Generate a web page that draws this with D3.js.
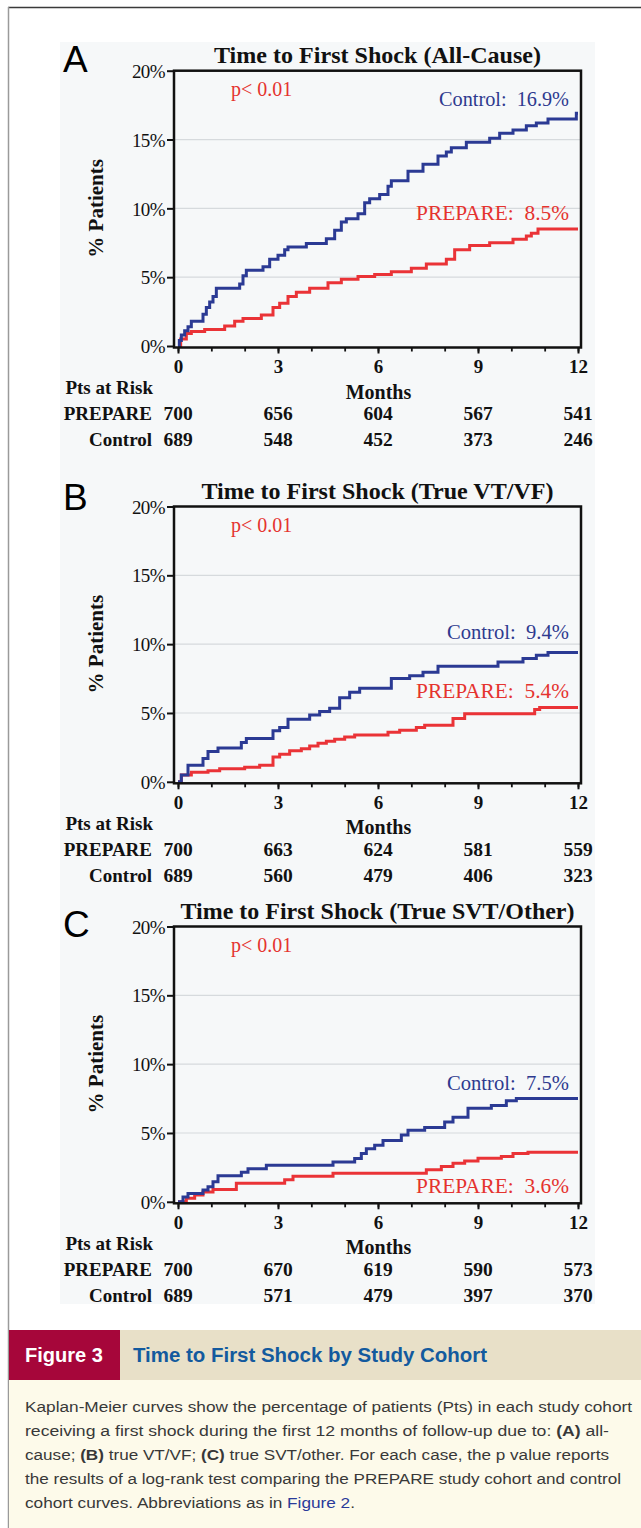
<!DOCTYPE html>
<html><head><meta charset="utf-8">
<script src="https://cdn.jsdelivr.net/npm/d3@7"></script>
<style>body{margin:0;background:#fff}svg{display:block}</style>
</head><body>
<script>
// ---------- DATA ----------
const panelLetters = ["A", "B", "C"];
const panelTitles = ["Time to First Shock (All-Cause)", "Time to First Shock (True VT/VF)", "Time to First Shock (True SVT/Other)"];
const pValueLabels = ["p< 0.01", "p< 0.01", "p< 0.01"];
const controlFinalLabels = ["Control:  16.9%", "Control:  9.4%", "Control:  7.5%"];
const prepareFinalLabels = ["PREPARE:  8.5%", "PREPARE:  5.4%", "PREPARE:  3.6%"];
const xTickMonths = [0, 3, 6, 9, 12];
const xMinorMonths = [0, 1, 2, 3, 4, 5, 6, 7, 8, 9, 10, 11, 12];
const yTickValues = [0, 5, 10, 15, 20];
const yAxisLabel = "% Patients";
const xAxisLabel = "Months";
const riskHeader = "Pts at Risk";
const riskRowLabels = ["PREPARE", "Control"];
const riskPrepare = [[700, 656, 604, 567, 541], [700, 663, 624, 581, 559], [700, 670, 619, 590, 573]];
const riskControl = [[689, 548, 452, 373, 246], [689, 560, 479, 406, 323], [689, 571, 479, 397, 370]];

// Kaplan-Meier step points [month, % patients]
const controlA = [[0,0],[0.04,0.4],[0.1,0.8],[0.2,1.1],[0.3,1.4],[0.4,1.8],[0.75,2.3],[0.85,2.8],[0.95,3.2],[1.05,3.6],[1.15,4.2],[1.85,4.5],[1.95,5.1],[2.05,5.5],[2.55,5.75],[2.75,6.3],[3.0,6.6],[3.2,7.0],[3.3,7.2],[3.85,7.45],[4.45,7.8],[4.7,8.4],[4.9,9.0],[5.05,9.25],[5.4,9.6],[5.6,10.4],[5.75,10.7],[6.05,11.0],[6.3,11.6],[6.4,12.0],[6.9,12.7],[7.35,13.2],[7.8,13.8],[8.05,14.1],[8.2,14.4],[8.65,14.8],[9.35,15.1],[9.65,15.45],[10.05,15.7],[10.45,16.0],[10.75,16.2],[11.1,16.5],[11.95,16.9],[12,16.9]];
const prepareA = [[0,0],[0.08,0.5],[0.25,0.9],[0.4,1.05],[0.8,1.2],[1.4,1.45],[1.7,1.8],[1.95,2.0],[2.5,2.25],[2.85,2.8],[3.05,3.1],[3.3,3.6],[3.55,3.9],[3.95,4.2],[4.5,4.6],[4.9,4.85],[5.4,5.05],[5.9,5.2],[6.4,5.4],[7.0,5.65],[7.45,5.95],[8.05,6.3],[8.3,7.0],[8.75,7.3],[9.35,7.5],[10.05,7.75],[10.45,8.0],[10.6,8.2],[10.8,8.5],[12,8.5]];
const controlB = [[0,0],[0.1,0.5],[0.3,1.2],[0.75,1.7],[0.9,2.2],[1.2,2.45],[1.9,2.85],[2.05,3.15],[2.85,3.7],[3.05,3.95],[3.3,4.55],[3.95,4.85],[4.25,5.1],[4.55,5.35],[4.85,6.1],[5.15,6.5],[5.45,6.8],[6.4,7.5],[6.95,7.7],[7.35,7.95],[7.8,8.4],[9.6,8.7],[10.35,8.95],[10.75,9.2],[11.1,9.4],[12,9.4]];
const prepareB = [[0,0],[0.1,0.5],[0.4,0.7],[0.9,0.8],[1.25,0.95],[2.0,1.05],[2.45,1.2],[2.85,1.8],[3.05,2.0],[3.35,2.25],[3.7,2.4],[3.95,2.6],[4.2,2.8],[4.45,2.95],[4.7,3.1],[5.0,3.25],[5.3,3.4],[6.3,3.6],[6.65,3.75],[7.15,3.95],[7.4,4.1],[8.25,4.6],[8.6,4.95],[10.7,5.25],[10.85,5.4],[12,5.4]];
const controlC = [[0,0],[0.15,0.35],[0.3,0.6],[0.75,0.85],[0.9,1.1],[1.05,1.45],[1.2,1.9],[1.9,2.15],[2.1,2.4],[2.65,2.66],[4.65,2.9],[5.3,3.15],[5.5,3.5],[5.65,3.85],[5.9,4.1],[6.15,4.45],[6.7,4.85],[6.9,5.2],[7.4,5.4],[8.0,5.8],[8.25,6.15],[8.7,6.8],[9.4,7.0],[9.85,7.35],[10.15,7.5],[12,7.5]];
const prepareC = [[0,0],[0.25,0.25],[0.5,0.5],[0.75,0.72],[1.05,0.9],[1.75,1.35],[3.2,1.6],[3.45,1.85],[4.65,2.08],[7.45,2.32],[7.9,2.56],[8.25,2.8],[8.6,2.97],[9.0,3.16],[9.7,3.3],[10.05,3.5],[10.5,3.6],[12,3.6]];
const controlSeries = [controlA, controlB, controlC];
const prepareSeries = [prepareA, prepareB, prepareC];

const figureLabel = "Figure 3";
const figureTitle = "Time to First Shock by Study Cohort";

// ---------- LAYOUT ----------
const panelTops = [70.7, 506.5, 926.5];
const plotH = 275.3;
const letterOffsets = [1.5, 3.5, 10.5];
const titleWidths = [327, 352, 394];
const controlLabelPct = [17.43, 10.36, 8.09];
const prepareLabelPct = [9.15, 6.06, 0.63];
const controlLabelWidths = [130, 122, 122];
const prepareLabelWidths = [153, 153, 153];

const BLUE = "#2b3a94", RED = "#ea3337", LBLUE = "#2e3a8f", LRED = "#e5332f";
const SERIF = "'Liberation Serif','Times New Roman',serif";
const SANS = "'Liberation Sans',Arial,sans-serif";

const svg = d3.select("body").append("svg").attr("width", 641).attr("height", 1528);

// outer frame
svg.append("line").attr("x1", 8).attr("x2", 641).attr("y1", 7.5).attr("y2", 7.5).attr("stroke", "#3a3a3a").attr("stroke-width", 1.5);
svg.append("line").attr("x1", 8.5).attr("x2", 8.5).attr("y1", 7).attr("y2", 1528).attr("stroke", "#9a9a9a").attr("stroke-width", 1.5);
// faint chart background
svg.append("rect").attr("x", 60).attr("y", 42).attr("width", 535).attr("height", 1262).attr("fill", "#f6f8f9");

const x = d3.scaleLinear().domain([0, 12]).range([178, 578]);

panelLetters.forEach((letter, i) => {
  const T = panelTops[i], B0 = T + plotH;
  const y = d3.scaleLinear().domain([0, 20]).range([B0, T]);
  const g = svg.append("g");

  // gridlines
  g.selectAll(".grid").data(yTickValues.filter(v => v > 0 && v < 20)).join("line")
    .attr("x1", 175).attr("x2", 580).attr("y1", d => y(d)).attr("y2", d => y(d))
    .attr("stroke", "#d6dadd").attr("stroke-width", 1.2);

  // curves
  const line = d3.line().x(d => x(d[0])).y(d => y(d[1])).curve(d3.curveStepAfter);
  g.append("path").datum(prepareSeries[i]).attr("d", line).attr("fill", "none")
    .attr("stroke", RED).attr("stroke-width", 3);
  g.append("path").datum(controlSeries[i]).attr("d", line).attr("fill", "none")
    .attr("stroke", BLUE).attr("stroke-width", 3);

  // frame
  g.append("rect").attr("x", 174).attr("y", T).attr("width", 407).attr("height", plotH + 1.5)
    .attr("fill", "none").attr("stroke", "#111").attr("stroke-width", 2.5);

  // x axis (minor + major)
  const xMinor = g.append("g").attr("transform", `translate(0,${B0 + 1.5})`)
    .call(d3.axisBottom(x).tickValues(xMinorMonths).tickSize(4).tickFormat(""));
  xMinor.select(".domain").remove();
  xMinor.selectAll("line").attr("stroke", "#111").attr("stroke-width", 1.8);
  const xMajor = g.append("g").attr("transform", `translate(0,${B0 + 1.5})`)
    .call(d3.axisBottom(x).tickValues(xTickMonths).tickSize(6).tickFormat(d3.format("d")));
  xMajor.select(".domain").remove();
  xMajor.selectAll("line").attr("stroke", "#111").attr("stroke-width", 2);
  xMajor.selectAll("text").attr("y", 25.5).attr("dy", 0)
    .attr("font-family", SERIF).attr("font-weight", "bold").attr("font-size", 19).attr("fill", "#111");

  // y axis
  const yAx = g.append("g").attr("transform", "translate(174,0)")
    .call(d3.axisLeft(y).tickValues(yTickValues).tickSize(7).tickFormat(d => d + "%"));
  yAx.select(".domain").remove();
  yAx.selectAll("line").attr("stroke", "#111").attr("stroke-width", 2);
  yAx.selectAll("text").attr("x", -9).attr("dy", "0.35em")
    .attr("font-family", SERIF).attr("font-size", 19).attr("letter-spacing", -0.6).attr("fill", "#111");

  // y label
  g.append("text").attr("transform", `translate(96,${(T + B0) / 2}) rotate(-90)`)
    .attr("text-anchor", "middle").attr("dominant-baseline", "central")
    .attr("font-family", SERIF).attr("font-weight", "bold").attr("font-size", 21).attr("fill", "#111")
    .text(yAxisLabel);

  // panel letter & title
  g.append("text").attr("x", 63).attr("y", T + letterOffsets[i])
    .attr("font-family", SANS).attr("font-size", 37).attr("fill", "#000").text(letter);
  g.append("text").attr("x", 377.5).attr("y", T - 8).attr("text-anchor", "middle")
    .attr("font-family", SERIF).attr("font-weight", "bold").attr("font-size", 23).attr("fill", "#111")
    .attr("textLength", titleWidths[i]).attr("lengthAdjust", "spacingAndGlyphs")
    .text(panelTitles[i]);

  // p value
  g.append("text").attr("x", 231).attr("y", T + 25)
    .attr("font-family", SERIF).attr("font-size", 20).attr("fill", LRED).text(pValueLabels[i]);

  // end labels
  g.append("text").attr("x", 569).attr("y", y(controlLabelPct[i])).attr("text-anchor", "end")
    .style("white-space", "pre")
    .attr("font-family", SERIF).attr("font-size", 20.5).attr("fill", LBLUE)
    .attr("textLength", controlLabelWidths[i]).attr("lengthAdjust", "spacingAndGlyphs")
    .text(controlFinalLabels[i]);
  g.append("text").attr("x", 569).attr("y", y(prepareLabelPct[i])).attr("text-anchor", "end")
    .style("white-space", "pre")
    .attr("font-family", SERIF).attr("font-size", 20.5).attr("fill", LRED)
    .attr("textLength", prepareLabelWidths[i]).attr("lengthAdjust", "spacingAndGlyphs")
    .text(prepareFinalLabels[i]);

  // at-risk table
  const tf = s => s.attr("font-family", SERIF).attr("font-weight", "bold").attr("fill", "#111");
  tf(g.append("text").attr("x", 153).attr("y", B0 + 48).attr("text-anchor", "end").attr("font-size", 19).text(riskHeader));
  tf(g.append("text").attr("x", 378.5).attr("y", B0 + 52.5).attr("text-anchor", "middle").attr("font-size", 20).text(xAxisLabel));
  [riskPrepare[i], riskControl[i]].forEach((row, r) => {
    const yy = B0 + 74 + r * 26;
    tf(g.append("text").attr("x", 152).attr("y", yy).attr("text-anchor", "end").attr("font-size", 19).text(riskRowLabels[r]));
    g.selectAll(null).data(row).join("text")
      .attr("x", (d, k) => x(xTickMonths[k])).attr("y", yy).attr("text-anchor", "middle")
      .attr("font-family", SERIF).attr("font-weight", "bold").attr("font-size", 19.5).attr("fill", "#111")
      .text(d => d);
  });
});

// ---------- caption ----------
svg.append("rect").attr("x", 9).attr("y", 1380).attr("width", 632).attr("height", 148).attr("fill", "#fdfaea");
svg.append("rect").attr("x", 9).attr("y", 1330).attr("width", 111).attr("height", 50).attr("fill", "#a6063a");
svg.append("rect").attr("x", 120).attr("y", 1330).attr("width", 521).attr("height", 50).attr("fill", "#e8e0c8");
svg.append("text").attr("x", 25).attr("y", 1362).attr("font-family", SANS).attr("font-weight", "bold")
  .attr("font-size", 20).attr("fill", "#fff").attr("textLength", 78).attr("lengthAdjust", "spacingAndGlyphs").text(figureLabel);
svg.append("text").attr("x", 133).attr("y", 1362).attr("font-family", SANS).attr("font-weight", "bold")
  .attr("font-size", 20).attr("fill", "#135a9e").attr("textLength", 354).attr("lengthAdjust", "spacingAndGlyphs").text(figureTitle);

const captionLines = [
  [["Kaplan-Meier curves show the percentage of patients (Pts) in each study cohort", 0]],
  [["receiving a first shock during the first 12 months of follow-up due to: ", 0], ["(A)", 1], [" all-", 0]],
  [["cause; ", 0], ["(B)", 1], [" true VT/VF; ", 0], ["(C)", 1], [" true SVT/other. For each case, the p value reports", 0]],
  [["the results of a log-rank test comparing the PREPARE study cohort and control", 0]],
  [["cohort curves. Abbreviations as in ", 0], ["Figure 2", 2], [".", 0]]
];
const captionWidths = [607, 584, 584, 596, 330];
captionLines.forEach((parts, li) => {
  const t = svg.append("text").attr("x", 25).attr("y", 1412 + li * 24)
    .attr("font-family", SANS).attr("font-size", 15.5).attr("fill", "#383838")
    .style("white-space", "pre")
    .attr("textLength", captionWidths[li]).attr("lengthAdjust", "spacingAndGlyphs");
  parts.forEach(([s, k]) => {
    t.append("tspan").text(s)
      .attr("font-weight", k === 1 ? "bold" : null)
      .attr("fill", k === 2 ? "#2a3a9a" : null);
  });
});
</script>
</body></html>
